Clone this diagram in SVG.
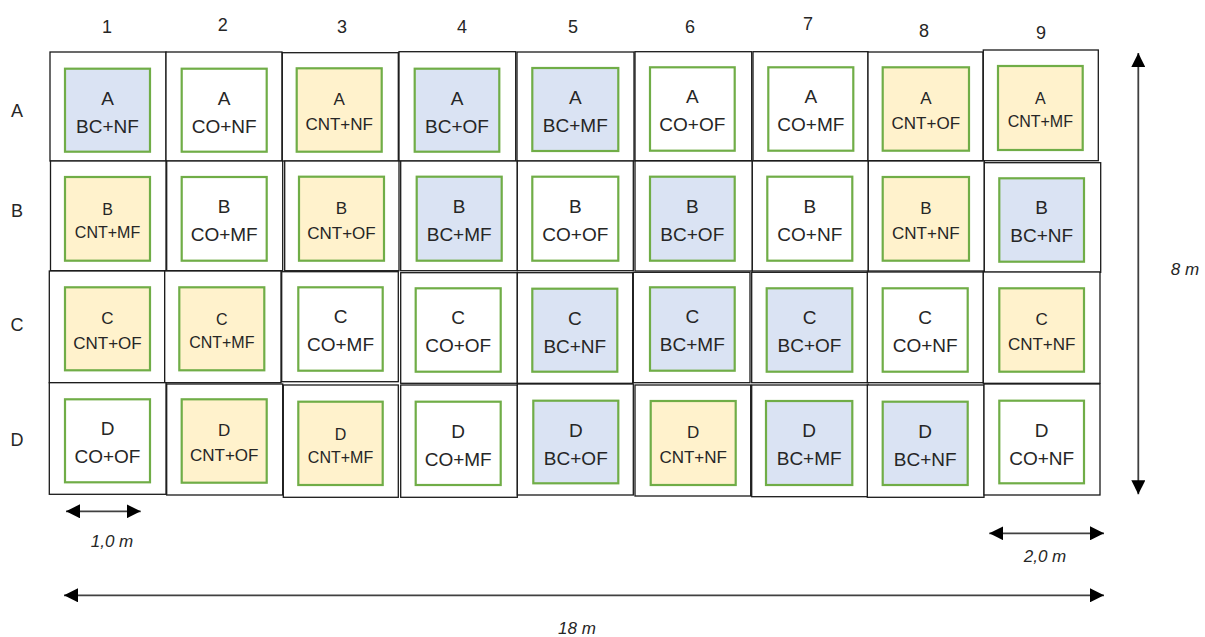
<svg xmlns="http://www.w3.org/2000/svg" width="1205" height="637" viewBox="0 0 1205 637">
<style>
.o{fill:#fff;stroke:#1a1a1a;stroke-width:1.3}
.i{stroke:#70AD47;stroke-width:2.2}
.b{fill:#DAE3F3}.y{fill:#FFF2CC}.w{fill:#fff}
.t{font-family:"Liberation Sans",Arial,sans-serif;fill:#262626;text-anchor:middle}
.n{font-size:19px}.c{font-size:17px}.s{font-size:16px}
.lab{font-size:18px}
.dim{font-style:italic;font-size:17px}
.ar{stroke:#404040;stroke-width:1.8;fill:none;marker-start:url(#ah);marker-end:url(#ah)}
</style>
<defs>
<marker id="ah" viewBox="0 0 14 14" refX="14" refY="7" markerWidth="14" markerHeight="14" markerUnits="userSpaceOnUse" orient="auto-start-reverse">
<path d="M0,0 L14,7 L0,14 z" fill="#000"/>
</marker>
</defs>
<rect width="1205" height="637" fill="#fff"/>
<g id="labels">
<text class="t lab" x="107" y="33">1</text>
<text class="t lab" x="222.7" y="31">2</text>
<text class="t lab" x="342" y="33">3</text>
<text class="t lab" x="462" y="33">4</text>
<text class="t lab" x="573" y="33">5</text>
<text class="t lab" x="690" y="33">6</text>
<text class="t lab" x="808" y="30">7</text>
<text class="t lab" x="924" y="37">8</text>
<text class="t lab" x="1041" y="39">9</text>
<text class="t lab" x="17" y="117">A</text>
<text class="t lab" x="17" y="217">B</text>
<text class="t lab" x="17" y="331">C</text>
<text class="t lab" x="17" y="446">D</text>
</g>
<g id="A1"><rect class="o" x="50" y="52" width="116" height="109"/><rect class="i b" x="65" y="68.7" width="85" height="83"/><text class="t n" x="107.5" y="104.7">A</text><text class="t n" x="107.5" y="132.7">BC+NF</text></g>
<g id="A2"><rect class="o" x="166" y="52" width="116" height="109"/><rect class="i w" x="181.7" y="68.7" width="85" height="83"/><text class="t n" x="224.2" y="104.7">A</text><text class="t n" x="224.2" y="132.7">CO+NF</text></g>
<g id="A3"><rect class="o" x="282.3" y="52.7" width="116" height="108.3"/><rect class="i y" x="296.7" y="68.3" width="85" height="83.4"/><text class="t c" x="339.2" y="105.3">A</text><text class="t c" x="339.2" y="130.3">CNT+NF</text></g>
<g id="A4"><rect class="o" x="399" y="51.7" width="116.7" height="109.3"/><rect class="i b" x="414.7" y="68.7" width="84.6" height="83"/><text class="t n" x="457" y="104.7">A</text><text class="t n" x="457" y="132.7">BC+OF</text></g>
<g id="A5"><rect class="o" x="517" y="52" width="117" height="109"/><rect class="i b" x="532.3" y="68" width="86" height="83"/><text class="t n" x="575.3" y="104">A</text><text class="t n" x="575.3" y="132">BC+MF</text></g>
<g id="A6"><rect class="o" x="635" y="51.7" width="116.7" height="109"/><rect class="i w" x="650" y="67.3" width="84.7" height="83.4"/><text class="t n" x="692.3" y="103.3">A</text><text class="t n" x="692.3" y="131.3">CO+OF</text></g>
<g id="A7"><rect class="o" x="753" y="51.7" width="115" height="109"/><rect class="i w" x="768.3" y="67.3" width="85" height="83.4"/><text class="t n" x="810.8" y="103.3">A</text><text class="t n" x="810.8" y="131.3">CO+MF</text></g>
<g id="A8"><rect class="o" x="868" y="52" width="115" height="108.7"/><rect class="i y" x="882.7" y="67.3" width="86.3" height="83.4"/><text class="t c" x="925.8" y="104.3">A</text><text class="t c" x="925.8" y="129.3">CNT+OF</text></g>
<g id="A9"><rect class="o" x="983.3" y="50" width="115" height="110.7"/><rect class="i y" x="998" y="66" width="84.7" height="84"/><text class="t s" x="1040.3" y="104">A</text><text class="t s" x="1040.3" y="127">CNT+MF</text></g>
<g id="B1"><rect class="o" x="50.5" y="161" width="115.5" height="109.7"/><rect class="i y" x="65" y="177" width="85" height="83.7"/><text class="t s" x="107.5" y="215">B</text><text class="t s" x="107.5" y="238">CNT+MF</text></g>
<g id="B2"><rect class="o" x="166.7" y="161" width="116" height="109.7"/><rect class="i w" x="181.7" y="177" width="85" height="83.7"/><text class="t n" x="224.2" y="213">B</text><text class="t n" x="224.2" y="241">CO+MF</text></g>
<g id="B3"><rect class="o" x="284.7" y="161" width="114.3" height="109.7"/><rect class="i y" x="299" y="176.7" width="85" height="84"/><text class="t c" x="341.5" y="213.7">B</text><text class="t c" x="341.5" y="238.7">CNT+OF</text></g>
<g id="B4"><rect class="o" x="400.7" y="161" width="116.6" height="109.7"/><rect class="i b" x="416.7" y="176.7" width="85" height="84"/><text class="t n" x="459.2" y="212.7">B</text><text class="t n" x="459.2" y="240.7">BC+MF</text></g>
<g id="B5"><rect class="o" x="517.3" y="161" width="116" height="109.7"/><rect class="i w" x="532.3" y="176.7" width="86" height="84"/><text class="t n" x="575.3" y="212.7">B</text><text class="t n" x="575.3" y="240.7">CO+OF</text></g>
<g id="B6"><rect class="o" x="635" y="161" width="117.3" height="110"/><rect class="i b" x="650" y="176.7" width="84.7" height="84"/><text class="t n" x="692.3" y="212.7">B</text><text class="t n" x="692.3" y="240.7">BC+OF</text></g>
<g id="B7"><rect class="o" x="752.3" y="161" width="116" height="110"/><rect class="i w" x="767.3" y="176.7" width="85" height="84"/><text class="t n" x="809.8" y="212.7">B</text><text class="t n" x="809.8" y="240.7">CO+NF</text></g>
<g id="B8"><rect class="o" x="868.3" y="161" width="116" height="110"/><rect class="i y" x="882.7" y="177" width="86.3" height="83.7"/><text class="t c" x="925.8" y="214">B</text><text class="t c" x="925.8" y="239">CNT+NF</text></g>
<g id="B9"><rect class="o" x="984.3" y="162.7" width="116.4" height="109.6"/><rect class="i b" x="999.3" y="178.3" width="84.7" height="83.4"/><text class="t n" x="1041.7" y="214.3">B</text><text class="t n" x="1041.7" y="242.3">BC+NF</text></g>
<g id="C1"><rect class="o" x="49.3" y="271" width="115.4" height="111.7"/><rect class="i y" x="65" y="287.3" width="85" height="83"/><text class="t c" x="107.5" y="324.3">C</text><text class="t c" x="107.5" y="349.3">CNT+OF</text></g>
<g id="C2"><rect class="o" x="164.7" y="271" width="116.3" height="111.7"/><rect class="i y" x="179.3" y="287.3" width="85" height="83"/><text class="t s" x="221.8" y="325.3">C</text><text class="t s" x="221.8" y="348.3">CNT+MF</text></g>
<g id="C3"><rect class="o" x="281.7" y="271.7" width="116.6" height="110"/><rect class="i w" x="298.3" y="287.3" width="84.4" height="83.4"/><text class="t n" x="340.5" y="323.3">C</text><text class="t n" x="340.5" y="351.3">CO+MF</text></g>
<g id="C4"><rect class="o" x="400.7" y="272.7" width="116.6" height="110.6"/><rect class="i w" x="415.7" y="288.3" width="85" height="83.4"/><text class="t n" x="458.2" y="324.3">C</text><text class="t n" x="458.2" y="352.3">CO+OF</text></g>
<g id="C5"><rect class="o" x="517.3" y="272.7" width="115.4" height="110.6"/><rect class="i b" x="532.3" y="288.7" width="85" height="83"/><text class="t n" x="574.8" y="324.7">C</text><text class="t n" x="574.8" y="352.7">BC+NF</text></g>
<g id="C6"><rect class="o" x="633.3" y="272.3" width="116.7" height="110.4"/><rect class="i b" x="650" y="287.3" width="84.7" height="83.4"/><text class="t n" x="692.3" y="323.3">C</text><text class="t n" x="692.3" y="351.3">BC+MF</text></g>
<g id="C7"><rect class="o" x="751.7" y="272.3" width="116.6" height="110.4"/><rect class="i b" x="766.7" y="288.3" width="85.6" height="83.4"/><text class="t n" x="809.5" y="324.3">C</text><text class="t n" x="809.5" y="352.3">BC+OF</text></g>
<g id="C8"><rect class="o" x="867.3" y="272" width="116" height="110.7"/><rect class="i w" x="882.7" y="288.3" width="85" height="83.4"/><text class="t n" x="925.2" y="324.3">C</text><text class="t n" x="925.2" y="352.3">CO+NF</text></g>
<g id="C9"><rect class="o" x="983.3" y="272" width="116.7" height="111.3"/><rect class="i y" x="999.3" y="288.3" width="84.7" height="83.4"/><text class="t c" x="1041.7" y="325.3">C</text><text class="t c" x="1041.7" y="350.3">CNT+NF</text></g>
<g id="D1"><rect class="o" x="49.3" y="382.7" width="116.7" height="111.6"/><rect class="i w" x="65" y="399.3" width="85" height="83"/><text class="t n" x="107.5" y="435.3">D</text><text class="t n" x="107.5" y="463.3">CO+OF</text></g>
<g id="D2"><rect class="o" x="166.7" y="384" width="116" height="111"/><rect class="i y" x="181.7" y="399.3" width="85" height="83.4"/><text class="t c" x="224.2" y="436.3">D</text><text class="t c" x="224.2" y="461.3">CNT+OF</text></g>
<g id="D3"><rect class="o" x="283.3" y="385" width="115" height="112.3"/><rect class="i y" x="298.3" y="401.7" width="84.4" height="83.3"/><text class="t s" x="340.5" y="439.7">D</text><text class="t s" x="340.5" y="462.7">CNT+MF</text></g>
<g id="D4"><rect class="o" x="400.7" y="385" width="116.6" height="112.3"/><rect class="i w" x="415.7" y="401.7" width="85" height="83.3"/><text class="t n" x="458.2" y="437.7">D</text><text class="t n" x="458.2" y="465.7">CO+MF</text></g>
<g id="D5"><rect class="o" x="517.3" y="384" width="116" height="111"/><rect class="i b" x="533.3" y="400.7" width="85" height="82.6"/><text class="t n" x="575.8" y="436.7">D</text><text class="t n" x="575.8" y="464.7">BC+OF</text></g>
<g id="D6"><rect class="o" x="635" y="385" width="115.7" height="111"/><rect class="i y" x="650.7" y="401" width="85" height="84"/><text class="t c" x="693.2" y="438">D</text><text class="t c" x="693.2" y="463">CNT+NF</text></g>
<g id="D7"><rect class="o" x="751.7" y="385" width="116.6" height="111.7"/><rect class="i b" x="766" y="401" width="86.3" height="84"/><text class="t n" x="809.2" y="437">D</text><text class="t n" x="809.2" y="465">BC+MF</text></g>
<g id="D8"><rect class="o" x="867.3" y="385" width="116.7" height="112.3"/><rect class="i b" x="882.7" y="401.7" width="85" height="83.3"/><text class="t n" x="925.2" y="437.7">D</text><text class="t n" x="925.2" y="465.7">BC+NF</text></g>
<g id="D9"><rect class="o" x="984" y="384" width="116" height="111"/><rect class="i w" x="999.3" y="400.7" width="84.7" height="82.6"/><text class="t n" x="1041.7" y="436.7">D</text><text class="t n" x="1041.7" y="464.7">CO+NF</text></g>
<g id="connectors">
<line class="ar" x1="1138.3" y1="53" x2="1138.3" y2="494.3"/>
<line class="ar" x1="66" y1="511.3" x2="140.7" y2="511.3"/>
<line class="ar" x1="989.3" y1="533.3" x2="1104" y2="533.3"/>
<line class="ar" x1="64" y1="595.3" x2="1104" y2="595.3"/>
</g>
<g id="dimensions">
<text class="t dim" x="1185" y="275">8 m</text>
<text class="t dim" x="112" y="547">1,0 m</text>
<text class="t dim" x="1045" y="562">2,0 m</text>
<text class="t dim" x="577" y="634">18 m</text>
</g>
</svg>
